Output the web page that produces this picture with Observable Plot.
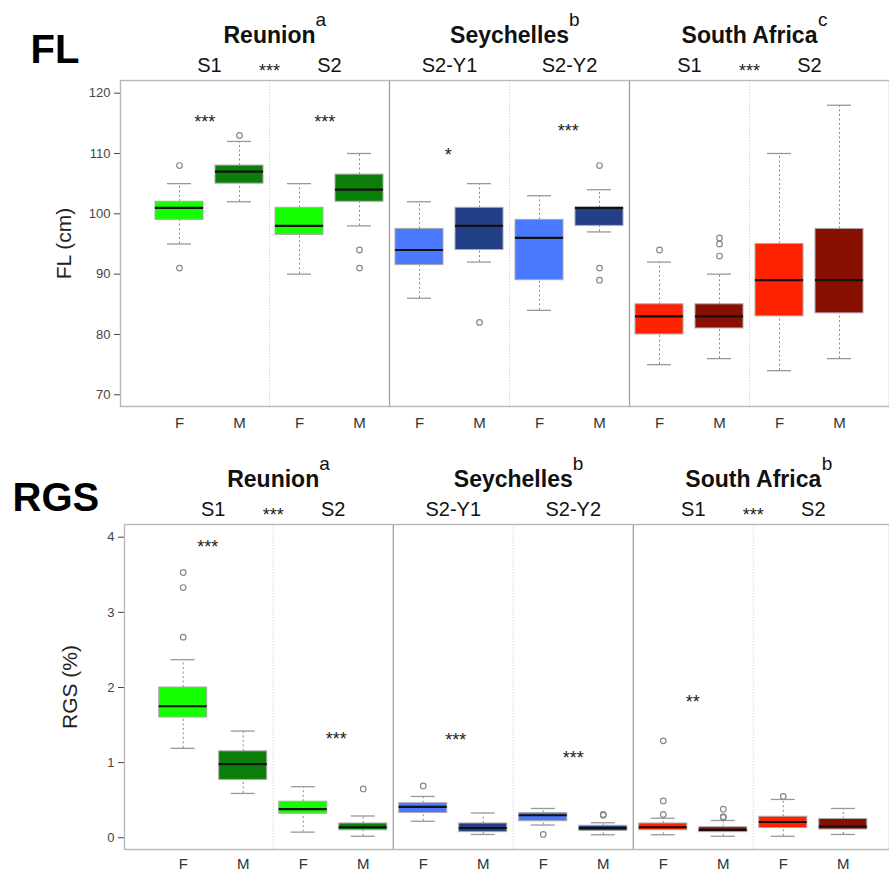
<!DOCTYPE html>
<html>
<head>
<meta charset="utf-8">
<script src="https://cdn.jsdelivr.net/npm/d3@7"></script>
<script src="https://cdn.jsdelivr.net/npm/@observablehq/plot@0.6"></script>
<style>
  body { margin: 0; background: #fff; font-family: "Liberation Sans", Arial, sans-serif; }
  svg { display: block; }
</style>
</head>
<body>
<div id="chart"></div>
<script>
// ---- categories ----
const regions = ["Reunion","Reunion","Reunion","Reunion","Seychelles","Seychelles","Seychelles","Seychelles","South Africa","South Africa","South Africa","South Africa"];
const periods = ["S1","S1","S2","S2","S2-Y1","S2-Y1","S2-Y2","S2-Y2","S1","S1","S2","S2"];
const sexes   = ["F","M","F","M","F","M","F","M","F","M","F","M"];
const boxColors = ["#14ff00","#0a800a","#14ff00","#0a800a","#4a78ff","#233f88","#4a78ff","#233f88","#ff2200","#871000","#ff2200","#871000"];
const regionNames = ["Reunion","Seychelles","South Africa"];
const headerStars = ["***","","***"];

// ---- FL (cm) ----
const flLow  = [95, 102, 90, 98, 86, 92, 84, 97, 75, 76, 74, 76];
const flQ1   = [99, 105, 96.5, 102, 91.5, 94, 89, 98, 80, 81, 83, 83.5];
const flMed  = [101, 107, 98, 104, 94, 98, 96, 101, 83, 83, 89, 89];
const flQ3   = [102, 108, 101, 106.5, 97.5, 101, 99, 101, 85, 85, 95, 97.5];
const flHigh = [105, 112, 105, 110, 102, 105, 103, 104, 92, 90, 110, 118];
const flOut  = [[108, 91], [113], [], [94, 91], [], [82], [], [108, 91, 89], [94], [96, 95, 93], [], []];
const flLetters = ["a","b","c"];
const flSigX = [1.42, 3.42, 5.48, 7.48];
const flSigY = [116, 116, 110.5, 114.6];
const flSigT = ["***","***","*","***"];
const flTicks = [70, 80, 90, 100, 110, 120];

// ---- RGS (%) ----
const rgsLow  = [1.19, 0.59, 0.075, 0.02, 0.22, 0.044, 0.17, 0.04, 0.04, 0.02, 0.02, 0.044];
const rgsQ1   = [1.6, 0.77, 0.32, 0.10, 0.33, 0.075, 0.22, 0.09, 0.10, 0.075, 0.13, 0.11];
const rgsMed  = [1.75, 0.98, 0.38, 0.14, 0.41, 0.13, 0.30, 0.13, 0.14, 0.106, 0.21, 0.15];
const rgsQ3   = [2.0, 1.15, 0.48, 0.19, 0.46, 0.19, 0.33, 0.16, 0.19, 0.14, 0.28, 0.25];
const rgsHigh = [2.37, 1.42, 0.68, 0.29, 0.55, 0.33, 0.39, 0.20, 0.26, 0.23, 0.51, 0.39];
const rgsOut  = [[3.53, 3.33, 2.67], [], [], [0.65], [0.69], [], [0.044], [0.31, 0.30], [1.29, 0.49, 0.31], [0.38, 0.28, 0.27], [0.55], []];
const rgsLetters = ["a","b","b"];
const rgsSigX = [1.41, 3.55, 5.54, 7.5, 9.49];
const rgsSigY = [3.93, 1.375, 1.37, 1.12, 1.87];
const rgsSigT = ["***","***","***","***","**"];
const rgsTicks = [0, 1, 2, 3, 4];

// ---- helpers ----
const FONT = "Liberation Sans, Arial, sans-serif";
const ctx = document.createElement("canvas").getContext("2d");
function textWidth(t, font) { ctx.font = font; return ctx.measureText(t).width; }

function buildRows(low, q1, med, q3, high) {
  return sexes.map((s, i) => ({pos: i + 1, sex: s, region: regions[i], period: periods[i], color: boxColors[i],
    low: low[i], q1: q1[i], med: med[i], q3: q3[i], high: high[i]}));
}
function groupCenters(keyFn) {
  const g = d3.groups(sexes.map((s, i) => ({i, key: keyFn(i)})), d => d.key);
  return g.map(([key, items]) => ({key, center: d3.mean(items, d => d.i + 1)}));
}

function panel(cfg) {
  const rows = buildRows(...cfg.stats);
  const outs = cfg.outliers.flatMap((arr, i) => arr.map(v => ({pos: i + 1, value: v})));
  const sig = cfg.sigX.map((x, i) => ({x, y: cfg.sigY[i], t: cfg.sigT[i]}));
  const regionGroups = groupCenters(i => regions[i]).map(g => ({...g, letter: cfg.letters[regionNames.indexOf(g.key)], stars: headerStars[regionNames.indexOf(g.key)]}));
  const periodGroups = groupCenters(i => regions[i] + "|" + periods[i]).map(g => ({...g, label: g.key.split("|")[1]}));
  const dividers = periodGroups.slice(1).map((g, k) => ({x: (periodGroups[k].center + g.center) / 2}));
  const major = dividers.filter(d => regionGroups.every(r => Math.abs(r.center - d.x) > 0.01));
  const minor = dividers.filter(d => !major.includes(d));
  const headFont = "bold 23px " + FONT;

  const supMarks = regionGroups.map(g => Plot.text([g], {
    x: "center", text: "letter", frameAnchor: "top", textAnchor: "start", lineAnchor: "middle",
    dx: textWidth(g.key, headFont) / 2, dy: -60.6, fontSize: 19, fill: "#111"
  }));

  return Plot.plot({
    width: 889, height: cfg.height,
    marginTop: cfg.marginTop, marginBottom: cfg.marginBottom, marginLeft: cfg.marginLeft, marginRight: 0,
    style: {fontFamily: FONT, fontSize: "13px", color: "#444", background: "white", overflow: "visible"},
    x: {domain: cfg.xDomain, axis: null},
    y: {domain: cfg.yDomain, ticks: cfg.yTicks, tickSize: 6, tickPadding: 4, label: null, tickFormat: d => String(d)},
    marks: [
      Plot.ruleX(minor, {x: "x", stroke: "#d6d6d6", strokeDasharray: "1.5,1.5"}),
      Plot.ruleX(major, {x: "x", stroke: "#9a9a9a", strokeWidth: 1.2}),
      Plot.frame({stroke: "#b8b8b8", strokeWidth: 1.4}),
      // whiskers
      Plot.ruleX(rows, {x: "pos", y1: "q3", y2: "high", stroke: "#888", strokeDasharray: "2,2.5"}),
      Plot.ruleX(rows, {x: "pos", y1: "low", y2: "q1", stroke: "#888", strokeDasharray: "2,2.5"}),
      Plot.ruleY(rows, {y: "high", x1: d => d.pos - 0.2, x2: d => d.pos + 0.2, stroke: "#999", strokeWidth: 1.3}),
      Plot.ruleY(rows, {y: "low", x1: d => d.pos - 0.2, x2: d => d.pos + 0.2, stroke: "#999", strokeWidth: 1.3}),
      // boxes
      Plot.rect(rows, {x1: d => d.pos - 0.4, x2: d => d.pos + 0.4, y1: "q1", y2: "q3", fill: "color", stroke: "#aaa", strokeWidth: 1}),
      Plot.ruleY(rows, {y: "med", x1: d => d.pos - 0.4, x2: d => d.pos + 0.4, stroke: "#111", strokeWidth: 2.2}),
      // outliers
      Plot.dot(outs, {x: "pos", y: "value", r: 2.8, stroke: "#888", strokeWidth: 1.2, fill: "none"}),
      // in-plot significance
      Plot.text(sig, {x: "x", y: "y", text: "t", dy: 5, fontSize: 18, fill: "#222", lineAnchor: "middle"}),
      // x labels
      Plot.text(rows, {x: "pos", text: "sex", frameAnchor: "bottom", lineAnchor: "middle", dy: cfg.xLabelDy, fontSize: 15, fill: "#333"}),
      // headers
      Plot.text(regionGroups, {x: "center", text: "key", frameAnchor: "top", lineAnchor: "middle", dy: -44.5, fontSize: 23, fontWeight: "bold", fill: "#111"}),
      ...supMarks,
      Plot.text(periodGroups, {x: "center", text: "label", frameAnchor: "top", lineAnchor: "middle", dy: -15.4, fontSize: 20, fill: "#111"}),
      Plot.text(regionGroups.filter(g => g.stars), {x: "center", text: "stars", frameAnchor: "top", lineAnchor: "middle", dy: -9.4, fontSize: 18, fill: "#222"}),
      // panel title and y label
      Plot.text([cfg.title], {text: d => d, frameAnchor: "top-left", textAnchor: "start", lineAnchor: "middle", dx: cfg.titleDx, dy: cfg.titleDy, fontSize: 40, fontWeight: "bold", fill: "#000"}),
      Plot.text([cfg.yLabel], {text: d => d, frameAnchor: "left", textAnchor: "middle", lineAnchor: "middle", rotate: -90, dx: cfg.yLabelDx, fontSize: 21, fill: "#222"})
    ]
  });
}

const chart = document.getElementById("chart");
chart.append(panel({
  title: "FL", titleDx: -90, titleDy: -30, yLabel: "FL (cm)", yLabelDx: -56,
  stats: [flLow, flQ1, flMed, flQ3, flHigh], outliers: flOut, letters: flLetters,
  sigX: flSigX, sigY: flSigY, sigT: flSigT,
  height: 440, marginTop: 80, marginBottom: 34, marginLeft: 120,
  xDomain: [0.0167, 12.833], yDomain: [68.06, 122.1], yTicks: flTicks, xLabelDy: 17
}));
chart.append(panel({
  title: "RGS", titleDx: -112, titleDy: -26, yLabel: "RGS (%)", yLabelDx: -54,
  stats: [rgsLow, rgsQ1, rgsMed, rgsQ3, rgsHigh], outliers: rgsOut, letters: rgsLetters,
  sigX: rgsSigX, sigY: rgsSigY, sigT: rgsSigT,
  height: 433, marginTop: 84, marginBottom: 24, marginLeft: 124,
  xDomain: [0.0217, 12.77], yDomain: [-0.156, 4.169], yTicks: rgsTicks, xLabelDy: 14.5
}));
</script>
</body>
</html>
